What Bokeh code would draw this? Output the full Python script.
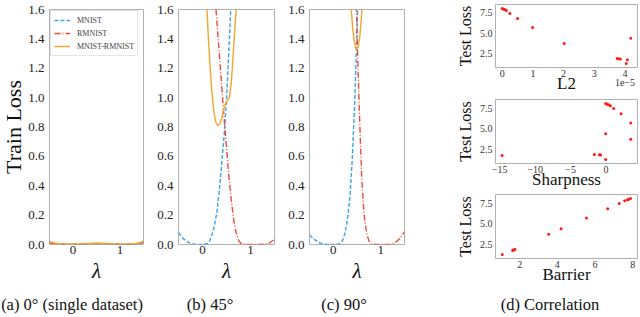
from bokeh.plotting import figure
from bokeh.layouts import row, column
from bokeh.models import FixedTicker, Range1d, Div, PrintfTickFormatter
from bokeh.embed import file_html
from bokeh.resources import INLINE

FONT = "Liberation Serif"
BLUE = "#3ca4e0"
RED = "#f04a3a"
ORANGE = "#f2a62e"
RED_DOT = "#ff1a1a"

# ---------------- panel (a) 0 degrees ----------------
lam_a = [-0.5, -0.4, -0.3, -0.2, -0.1, 0.0, 0.1, 0.2, 0.3, 0.4, 0.5, 0.6, 0.7, 0.8, 0.9, 1.0, 1.1, 1.2, 1.3, 1.4, 1.5]
mnist_a = [0.015, 0.008, 0.004, 0.002, 0.001, 0.001, 0.001, 0.002, 0.003, 0.004, 0.005, 0.005, 0.005, 0.004, 0.003, 0.002, 0.002, 0.002, 0.003, 0.006, 0.012]
rmnist_a = [0.012, 0.006, 0.003, 0.002, 0.002, 0.002, 0.002, 0.003, 0.004, 0.005, 0.005, 0.005, 0.004, 0.003, 0.002, 0.001, 0.001, 0.002, 0.004, 0.008, 0.015]
both_a = [0.020, 0.010, 0.005, 0.003, 0.002, 0.002, 0.003, 0.005, 0.007, 0.009, 0.010, 0.009, 0.007, 0.005, 0.003, 0.002, 0.002, 0.003, 0.005, 0.010, 0.022]

# ---------------- panel (b) 45 degrees ----------------
lam_b_m = [-0.5, -0.4, -0.3, -0.2, -0.1, 0.0, 0.1, 0.15, 0.2, 0.25, 0.3, 0.35, 0.4, 0.45, 0.5, 0.55, 0.6]
mnist_b = [0.08, 0.04, 0.015, 0.004, 0.0, 0.0, 0.005, 0.025, 0.07, 0.13, 0.22, 0.37, 0.55, 0.74, 0.98, 1.32, 1.7]
lam_b_r = [0.25, 0.3, 0.35, 0.4, 0.45, 0.5, 0.55, 0.6, 0.65, 0.7, 0.75, 0.8, 0.9, 1.0, 1.1, 1.2, 1.3, 1.4, 1.5]
rmnist_b = [1.75, 1.52, 1.3, 1.08, 0.86, 0.66, 0.46, 0.3, 0.17, 0.08, 0.03, 0.008, 0.0, 0.0, 0.0, 0.0, 0.002, 0.012, 0.035]
lam_b_o = [0.08, 0.12, 0.16, 0.2, 0.24, 0.28, 0.32, 0.36, 0.4, 0.44, 0.48, 0.52, 0.56, 0.6, 0.64, 0.68, 0.72, 0.74]
both_b = [1.7, 1.42, 1.2, 1.02, 0.9, 0.83, 0.81, 0.82, 0.86, 0.92, 0.96, 0.98, 1.0, 1.1, 1.3, 1.5, 1.68, 1.8]

# ---------------- panel (c) 90 degrees ----------------
lam_c_m = [-0.5, -0.4, -0.3, -0.2, -0.1, 0.0, 0.1, 0.15, 0.2, 0.25, 0.3, 0.35, 0.4, 0.45, 0.48, 0.5, 0.52]
mnist_c = [0.065, 0.035, 0.012, 0.002, 0.0, 0.0, 0.002, 0.008, 0.03, 0.08, 0.17, 0.32, 0.58, 0.95, 1.25, 1.45, 1.7]
lam_c_r = [0.48, 0.5, 0.52, 0.55, 0.6, 0.65, 0.7, 0.75, 0.8, 0.9, 1.0, 1.1, 1.2, 1.3, 1.4, 1.5]
rmnist_c = [1.7, 1.45, 1.22, 0.9, 0.45, 0.2, 0.08, 0.025, 0.004, 0.0, 0.0, 0.0, 0.002, 0.012, 0.04, 0.085]
lam_c_o = [0.35, 0.38, 0.41, 0.44, 0.47, 0.5, 0.53, 0.56, 0.59, 0.62, 0.64]
both_c = [1.75, 1.6, 1.47, 1.39, 1.34, 1.33, 1.35, 1.42, 1.53, 1.68, 1.8]

# ---------------- panel (d) correlation ----------------
test_loss = [1.86, 1.83, 1.80, 1.72, 1.24, 3.72, 4.38, 5.70, 6.82, 7.45, 7.80, 7.92, 7.97, 8.05]
l2_1e5 = [3.75, 3.80, 3.85, 4.08, 4.04, 2.02, 4.19, 0.99, 0.50, 0.25, 0.13, 0.09, 0.04, 0.00]
sharpness = [-1.65, -0.94, -0.75, -14.67, -0.04, 3.51, -0.04, 3.51, 2.13, 1.09, 0.62, 0.38, 0.14, -0.04]
barrier = [1.75, 1.72, 1.66, 1.63, 1.08, 3.54, 4.20, 5.54, 6.67, 7.28, 7.57, 7.72, 7.79, 7.88]

loss_ticks = [0.0, 0.2, 0.4, 0.6, 0.8, 1.0, 1.2, 1.4, 1.6]
lam_ticks = [0, 1]
d_yticks = [2.5, 5.0, 7.5]
l2_ticks = [0, 1, 2, 3, 4]
sharp_ticks = [-15, -10, -5, 0]
barrier_ticks = [2, 4, 6, 8]

captions = ["(a) 0° (single dataset)", "(b) 45°", "(c) 90°", "(d) Correlation"]
l2_scale_text = "1e−5"


def base(fw, fh, left, right, top, bottom, xr, yr):
    p = figure(frame_width=fw, frame_height=fh, x_range=Range1d(*xr), y_range=Range1d(*yr),
               output_backend="svg", toolbar_location=None,
               min_border_left=left, min_border_right=right,
               min_border_top=top, min_border_bottom=bottom)
    p.outline_line_color = "#b0b0b0"
    p.outline_line_width = 1
    p.xgrid.visible = False
    p.ygrid.visible = False
    p.background_fill_color = "white"
    p.border_fill_color = "white"
    for ax in (p.xaxis[0], p.yaxis[0]):
        ax.axis_line_color = None
        ax.major_tick_line_color = None
        ax.minor_tick_line_color = None
        ax.major_tick_out = 0
        ax.major_tick_in = 0
        ax.major_label_text_font = FONT
        ax.major_label_text_color = "#222222"
        ax.axis_label_text_font = FONT
        ax.axis_label_text_font_style = "normal"
        ax.axis_label_text_color = "#111111"
    return p


def make_loss(fw, left, right, show_ylabel, lm, ym, lr, yr_, lo, yo, legend=False):
    p = base(fw, 235, left, right, 7, 45, (-0.5, 1.5), (0.0, 1.6))
    p.yaxis[0].ticker = FixedTicker(ticks=loss_ticks)
    p.yaxis[0].formatter = PrintfTickFormatter(format="%.1f")
    p.xaxis[0].ticker = FixedTicker(ticks=lam_ticks)
    for ax in (p.xaxis[0], p.yaxis[0]):
        ax.major_label_text_font_size = "13px"
    p.yaxis[0].major_label_standoff = 5
    p.xaxis[0].major_label_standoff = 1
    p.xaxis[0].axis_label = "λ"
    p.xaxis[0].axis_label_text_font_style = "italic"
    p.xaxis[0].axis_label_text_font_size = "21px"
    p.xaxis[0].axis_label_standoff = 2
    if show_ylabel:
        p.yaxis[0].axis_label = "Train Loss"
        p.yaxis[0].axis_label_text_font_size = "22px"
        p.yaxis[0].axis_label_standoff = -1
    kw = dict(line_width=1.4)
    if legend:
        p.line(lm, ym, line_color=BLUE, line_dash="4 2", legend_label="MNIST", **kw)
        p.line(lr, yr_, line_color=RED, line_dash="6 2 1 2", legend_label="RMNIST", **kw)
        p.line(lo, yo, line_color=ORANGE, legend_label="MNIST-RMNIST", **kw)
        lg = p.legend[0]
        lg.location = "top_left"
        lg.margin = 1
        lg.padding = 3
        lg.spacing = 1
        lg.label_height = 12
        lg.glyph_height = 12
        lg.glyph_width = 16
        lg.label_standoff = 7
        lg.label_text_font = FONT
        lg.label_text_font_size = "8px"
        lg.border_line_color = "#cccccc"
        lg.background_fill_alpha = 0.85
    else:
        p.line(lm, ym, line_color=BLUE, line_dash="4 2", **kw)
        p.line(lr, yr_, line_color=RED, line_dash="6 2 1 2", **kw)
        p.line(lo, yo, line_color=ORANGE, **kw)
    return p


pa = make_loss(94, 45, 7, True, lam_a, mnist_a, lam_a, rmnist_a, lam_a, both_a, legend=True)
pa.margin = (0, 0, 0, 6)
pb = make_loss(96, 28, 10, False, lam_b_m, mnist_b, lam_b_r, rmnist_b, lam_b_o, both_b)
pc = make_loss(95, 25, 39, False, lam_c_m, mnist_c, lam_c_r, rmnist_c, lam_c_o, both_c)

D_YR = (0.75, 8.55)


def make_corr(fh, top, bottom, xr, xticks, xs, xlabel, overrides=None):
    p = base(142, fh, 52, 1, top, bottom, xr, D_YR)
    p.yaxis[0].ticker = FixedTicker(ticks=d_yticks)
    p.yaxis[0].formatter = PrintfTickFormatter(format="%.1f")
    p.xaxis[0].ticker = FixedTicker(ticks=xticks)
    if overrides:
        p.xaxis[0].major_label_overrides = overrides
    for ax in (p.xaxis[0], p.yaxis[0]):
        ax.major_label_text_font_size = "10px"
        ax.major_label_text_color = "#333333"
    p.yaxis[0].major_label_standoff = 3
    p.xaxis[0].major_label_standoff = 2
    p.yaxis[0].axis_label = "Test Loss"
    p.yaxis[0].axis_label_text_font_size = "16px"
    p.yaxis[0].axis_label_standoff = 3
    p.xaxis[0].axis_label = xlabel
    p.xaxis[0].axis_label_text_font_size = "17px"
    p.xaxis[0].axis_label_standoff = -6
    p.scatter(xs, test_loss, size=3, color=RED_DOT, line_color=None)
    return p


d1 = make_corr(63, 2, 32, (-0.22, 4.41), l2_ticks, l2_1e5, "L2")
d2 = make_corr(64, 0, 31, (-15.6, 4.45), sharp_ticks, sharpness, "Sharpness",
               overrides={-15: "−15", -10: "−10", -5: "−5", 0: "0"})
d3 = make_corr(64, 0, 31, (0.72, 8.25), barrier_ticks, barrier, "Barrier")

centers = [75, 213, 347, 553]
spans = "".join(
    '<span style="position:absolute;left:%dpx;top:1px;transform:translateX(-50%%);white-space:nowrap;">%s</span>' % (c, t)
    for c, t in zip(centers, captions))
# offset note for the axis multiplier of the L2 panel (matplotlib style "1e-5")
spans += ('<span style="position:absolute;right:2px;top:-217px;'
          'white-space:nowrap;font-size:10px;line-height:12px;color:#333;">%s</span>' % l2_scale_text)
cap = Div(text='<div style="position:relative;width:640px;height:24px;font-family:\'Liberation Serif\';'
               'font-size:16.5px;color:#111;line-height:20px;overflow:visible;">' + spans + '</div>',
          width=640, height=24, styles={"overflow": "visible"})

top_row = row(pa, pb, pc, column(d1, d2, d3))
layout = column(top_row, cap, margin=(2, 0, 0, -8))

open("out.html", "w").write(file_html(layout, INLINE))
